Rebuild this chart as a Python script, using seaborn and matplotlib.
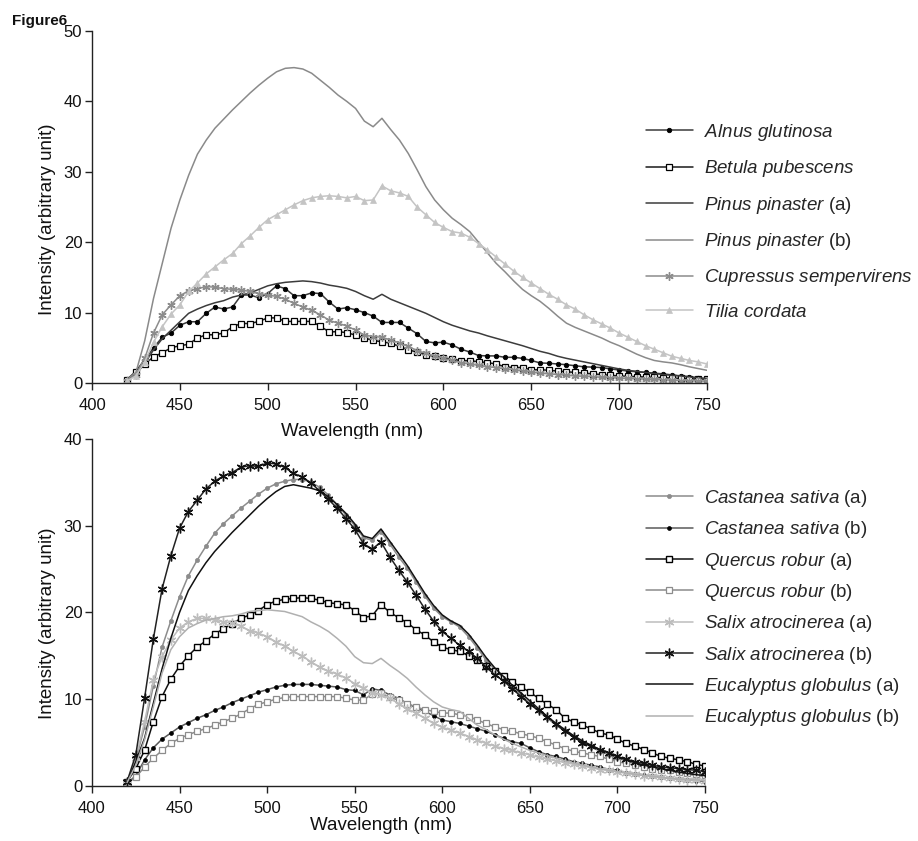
import numpy as np
import matplotlib
matplotlib.use("Agg")
import matplotlib.pyplot as plt
import seaborn as sns

sns.set_theme(style="ticks")
plt.rcParams["font.family"] = ["Liberation Sans", "DejaVu Sans"]
plt.rcParams["mathtext.fontset"] = "custom"
plt.rcParams["mathtext.it"] = "Liberation Sans:italic"
plt.rcParams["mathtext.rm"] = "Liberation Sans"

# Emission wavelengths (nm), one reading every 5 nm
wavelength = np.arange(420, 751, 5)

# ---- Upper panel: fluorescence spectra ----
alnus = [0.5, 1.7, 3.3, 5.0, 6.5, 7.1, 8.2, 8.7, 8.7, 9.9, 10.8, 10.5, 10.8, 12.5, 12.5,
         12.1, 12.7, 13.8, 13.4, 12.4, 12.4, 12.8, 12.7, 11.5, 10.5, 10.7, 10.4, 10.0, 9.5, 8.6,
         8.6, 8.6, 7.8, 7.0, 5.9, 5.7, 5.8, 5.4, 4.8, 4.4, 3.9, 3.85, 3.85, 3.65, 3.65,
         3.5, 3.2, 2.85, 2.8, 2.7, 2.6, 2.45, 2.3, 2.25, 2.2, 2.0, 1.85, 1.7, 1.6, 1.5,
         1.4, 1.3, 1.15, 1.0, 0.9, 0.7, 0.5]
betula = [0.4, 1.5, 2.7, 3.7, 4.3, 5.0, 5.3, 5.5, 6.4, 6.85, 6.85, 7.1, 8.0, 8.45, 8.45,
          8.75, 9.25, 9.25, 8.75, 8.75, 8.75, 8.75, 8.05, 7.25, 7.3, 7.15, 6.8, 6.4, 6.05, 5.85,
          5.65, 5.2, 4.7, 4.4, 4.0, 3.8, 3.55, 3.4, 3.17, 3.17, 3.03, 2.9, 2.7, 2.3, 2.2,
          2.2, 1.85, 1.9, 1.8, 1.7, 1.6, 1.5, 1.4, 1.3, 1.2, 1.1, 1.0, 0.95, 0.9, 0.85,
          0.8, 0.75, 0.7, 0.65, 0.6, 0.55, 0.5]
pinus_a = [0.3, 1.2, 2.8, 4.7, 6.3, 7.5, 8.7, 9.9, 10.5, 11.0, 11.4, 11.7, 12.2, 12.5, 12.8,
           13.3, 13.8, 14.1, 14.3, 14.4, 14.5, 14.4, 14.2, 13.9, 13.7, 13.45, 13.0, 12.4, 11.9, 12.6,
           11.9, 11.4, 10.9, 10.4, 9.9, 9.3, 8.7, 8.2, 7.8, 7.4, 7.1, 6.7, 6.35, 6.0, 5.65,
           5.3, 4.9, 4.5, 4.2, 3.8, 3.5, 3.25, 3.0, 2.75, 2.5, 2.25, 2.0, 1.8, 1.65, 1.5,
           1.35, 1.2, 1.1, 1.0, 0.85, 0.75, 0.65]
pinus_b = [0.5, 1.5, 6.0, 12.0, 17.0, 22.0, 26.0, 29.5, 32.5, 34.5, 36.2, 37.5, 38.8, 40.0, 41.2,
           42.3, 43.3, 44.2, 44.7, 44.8, 44.6, 44.0, 43.0, 42.0, 40.9, 40.0, 39.0, 37.2, 36.4, 37.6,
           36.0, 34.5, 32.6, 30.3, 27.9, 26.0, 24.6, 23.4, 22.5, 21.5, 20.0, 18.5, 17.0, 15.8, 14.5,
           13.3, 12.4, 11.6, 10.6, 9.5, 8.5, 7.9, 7.4, 6.9, 6.4, 5.8, 5.3, 4.7, 4.1, 3.6,
           3.2, 3.0, 2.85, 2.6, 2.3, 2.05, 1.8]
cupressus = [0.3, 1.2, 3.5, 7.1, 9.7, 11.1, 12.4, 13.1, 13.4, 13.7, 13.6, 13.4, 13.3, 13.2, 13.0,
             12.7, 12.5, 12.3, 11.9, 11.3, 10.8, 10.3, 9.7, 8.9, 8.5, 8.1, 7.5, 6.8, 6.6, 6.5,
             6.1, 5.7, 5.2, 4.6, 4.2, 3.8, 3.5, 3.2, 2.9, 2.7, 2.5, 2.3, 2.2, 2.0, 1.9,
             1.7, 1.55, 1.4, 1.3, 1.2, 1.1, 1.0, 0.95, 0.9, 0.8, 0.75, 0.7, 0.65, 0.6, 0.55,
             0.5, 0.45, 0.4, 0.35, 0.3, 0.3, 0.25]
tilia = [0.3, 1.0, 3.0, 5.8, 8.0, 9.8, 11.1, 13.0, 14.2, 15.5, 16.5, 17.5, 18.4, 19.8, 20.9,
         22.1, 23.2, 23.9, 24.6, 25.3, 25.9, 26.3, 26.5, 26.6, 26.5, 26.3, 26.5, 25.9, 26.0, 28.0,
         27.3, 27.0, 26.5, 25.0, 23.9, 22.8, 22.1, 21.5, 21.3, 20.7, 19.8, 18.9, 17.9, 16.9, 15.9,
         15.0, 14.2, 13.4, 12.6, 11.9, 11.1, 10.5, 9.7, 9.0, 8.4, 7.8, 7.1, 6.5, 5.9, 5.3,
         4.8, 4.3, 3.8, 3.5, 3.2, 3.0, 2.7]

# ---- Lower panel ----
castanea_a = [0.4, 3.0, 6.8, 11.5, 16.0, 19.0, 21.8, 24.2, 26.0, 27.6, 29.1, 30.2, 31.1, 32.0, 32.8,
              33.6, 34.3, 34.8, 35.1, 35.3, 35.3, 35.0, 34.4, 33.5, 32.4, 31.2, 30.0, 28.6, 28.3, 29.3,
              27.9, 26.4, 25.1, 23.5, 21.9, 20.5, 19.5, 18.9, 18.3, 17.2, 15.9, 14.5, 13.4, 12.4, 11.4,
              10.5, 9.5, 8.6, 7.8, 7.0, 6.3, 5.6, 5.0, 4.5, 4.0, 3.6, 3.2, 2.9, 2.6, 2.3,
              2.1, 1.9, 1.7, 1.5, 1.35, 1.2, 1.1]
castanea_b = [0.3, 1.2, 3.0, 4.4, 5.4, 6.1, 6.8, 7.3, 7.8, 8.2, 8.7, 9.1, 9.6, 10.0, 10.4,
              10.8, 11.1, 11.4, 11.6, 11.7, 11.7, 11.7, 11.6, 11.5, 11.4, 11.1, 11.0, 10.5, 11.2, 11.0,
              10.5, 10.1, 9.5, 9.0, 8.6, 8.1, 7.6, 7.4, 7.2, 6.9, 6.6, 6.3, 5.9, 5.5, 5.1,
              4.9, 4.4, 3.95, 3.6, 3.4, 3.1, 2.8, 2.6, 2.4, 2.2, 1.9, 1.8, 1.5, 1.4, 1.3,
              1.2, 1.0, 0.9, 0.8, 0.7, 0.6, 0.5]
quercus_a = [0.5, 2.0, 4.1, 7.4, 10.3, 12.3, 13.8, 15.0, 16.0, 16.7, 17.5, 18.1, 18.7, 19.3, 19.7,
             20.2, 20.9, 21.3, 21.5, 21.6, 21.7, 21.6, 21.4, 21.1, 21.0, 20.85, 20.2, 19.4, 19.6, 20.9,
             20.0, 19.4, 18.8, 18.0, 17.4, 16.6, 16.0, 15.7, 15.5, 15.0, 14.5, 13.8, 13.2, 12.7, 12.0,
             11.4, 10.8, 10.1, 9.4, 8.8, 7.8, 7.4, 7.0, 6.6, 6.1, 5.9, 5.4, 4.9, 4.6, 4.2,
             3.8, 3.4, 3.2, 3.0, 2.8, 2.5, 2.3]
quercus_b = [0.3, 1.0, 2.2, 3.2, 4.1, 4.9, 5.5, 5.9, 6.3, 6.6, 7.0, 7.4, 7.8, 8.3, 8.9,
             9.4, 9.7, 10.0, 10.2, 10.3, 10.3, 10.3, 10.3, 10.3, 10.3, 10.1, 9.9, 9.9, 10.6, 10.7,
             10.2, 9.9, 9.5, 9.1, 8.8, 8.6, 8.4, 8.4, 8.2, 8.0, 7.6, 7.2, 6.8, 6.5, 6.3,
             6.0, 5.8, 5.5, 5.1, 4.7, 4.3, 4.0, 3.8, 3.6, 3.4, 3.1, 2.8, 2.6, 2.4, 2.2,
             2.0, 1.9, 1.8, 1.65, 1.5, 1.4, 1.3]
salix_a = [0.4, 3.2, 7.4, 12.2, 14.9, 16.8, 18.2, 18.9, 19.3, 19.3, 19.1, 18.9, 18.8, 18.4, 17.9,
           17.6, 17.2, 16.6, 16.1, 15.5, 15.0, 14.3, 13.7, 13.2, 12.9, 12.4, 11.8, 11.3, 10.7, 10.5,
           10.1, 9.5, 8.9, 8.4, 7.8, 7.2, 6.8, 6.4, 6.1, 5.7, 5.3, 4.9, 4.6, 4.3, 4.1,
           3.8, 3.6, 3.3, 3.1, 2.9, 2.7, 2.5, 2.3, 2.1, 1.9, 1.8, 1.6, 1.5, 1.35, 1.2,
           1.1, 1.0, 0.9, 0.8, 0.7, 0.65, 0.6]
salix_b = [0.5, 3.6, 10.1, 16.9, 22.7, 26.5, 29.7, 31.6, 32.9, 34.2, 35.1, 35.7, 36.1, 36.7, 36.9,
           36.8, 37.2, 37.1, 36.7, 36.0, 35.6, 34.9, 34.0, 33.0, 32.0, 30.8, 29.6, 27.9, 27.3, 28.1,
           26.4, 24.9, 23.5, 22.0, 20.4, 19.0, 17.8, 17.0, 16.2, 15.5, 14.7, 13.7, 12.8, 12.1, 11.2,
           10.3, 9.4, 8.7, 8.0, 7.1, 6.3, 5.7, 5.0, 4.6, 4.2, 3.85, 3.4, 3.1, 2.8, 2.6,
           2.4, 2.2, 2.1, 2.0, 1.9, 1.8, 1.65]
eucalyptus_a = [0.4, 2.8, 5.5, 9.5, 13.5, 17.0, 20.0, 22.5, 24.2, 25.7, 27.0, 28.1, 29.2, 30.2, 31.2,
                32.2, 33.1, 33.9, 34.5, 34.7, 34.5, 34.3, 34.0, 33.3, 32.4, 31.4, 30.2, 28.8, 28.5, 29.6,
                28.2, 26.8, 25.4, 23.8, 22.2, 20.8, 19.7, 19.0, 18.5, 17.5, 16.2, 14.8, 13.6, 12.6, 11.6,
                10.7, 9.8, 8.9, 8.0, 7.2, 6.5, 5.8, 5.2, 4.7, 4.2, 3.8, 3.4, 3.0, 2.7, 2.4,
                2.2, 2.0, 1.8, 1.6, 1.45, 1.3, 1.2]
eucalyptus_b = [0.4, 2.4, 5.3, 9.1, 13.0, 15.7, 17.2, 18.2, 18.7, 19.1, 19.3, 19.5, 19.6, 19.8, 20.1,
                20.2, 20.3, 20.2, 20.1, 19.8, 19.5, 18.9, 18.4, 17.8, 17.0, 16.1, 14.9, 14.2, 14.1, 14.7,
                13.9, 13.2, 12.4, 11.4, 10.5, 9.7, 9.1, 8.8, 8.6, 7.8, 7.0, 6.5, 5.9, 5.4, 4.9,
                4.5, 4.1, 3.8, 3.5, 3.2, 2.9, 2.65, 2.4, 2.2, 2.0, 1.8, 1.65, 1.5, 1.35, 1.2,
                1.1, 1.0, 0.9, 0.8, 0.75, 0.7, 0.65]


def species(name, suffix=""):
    words = name.replace(" ", r"\ ")
    return rf"$\mathit{{{words}}}$" + (f" {suffix}" if suffix else "")


asterisk = (6, 2, 0)

top_series = [
    (species("Alnus glutinosa"), alnus,
     dict(color="#3a3a3a", marker="o", ms=3.2, mfc="black", mec="black", mew=0.6)),
    (species("Betula pubescens"), betula,
     dict(color="#1a1a1a", marker="s", ms=4.3, mfc="white", mec="black", mew=0.9)),
    (species("Pinus pinaster", "(a)"), pinus_a,
     dict(color="#3c3c3c")),
    (species("Pinus pinaster", "(b)"), pinus_b,
     dict(color="#8a8a8a")),
    (species("Cupressus sempervirens"), cupressus,
     dict(color="#8c8c8c", marker=asterisk, ms=6, mfc="#8c8c8c", mec="#8c8c8c", mew=1.0)),
    (species("Tilia cordata"), tilia,
     dict(color="#c4c4c4", marker="^", ms=4.5, mfc="#c4c4c4", mec="#c4c4c4", mew=0.5)),
]

bottom_series = [
    (species("Castanea sativa", "(a)"), castanea_a,
     dict(color="#8c8c8c", marker="o", ms=3.0, mfc="#8c8c8c", mec="#8c8c8c", mew=0.5)),
    (species("Castanea sativa", "(b)"), castanea_b,
     dict(color="#5a5a5a", marker="o", ms=2.8, mfc="black", mec="black", mew=0.5)),
    (species("Quercus robur", "(a)"), quercus_a,
     dict(color="#111111", marker="s", ms=4.6, mfc="white", mec="black", mew=1.0)),
    (species("Quercus robur", "(b)"), quercus_b,
     dict(color="#8c8c8c", marker="s", ms=4.0, mfc="white", mec="#8c8c8c", mew=0.9)),
    (species("Salix atrocinerea", "(a)"), salix_a,
     dict(color="#bdbdbd", marker=asterisk, ms=7, mfc="#bdbdbd", mec="#bdbdbd", mew=1.0)),
    (species("Salix atrocinerea", "(b)"), salix_b,
     dict(color="#222222", marker=asterisk, ms=7, mfc="#111111", mec="#111111", mew=1.0)),
    (species("Eucalyptus globulus", "(a)"), eucalyptus_a,
     dict(color="#111111")),
    (species("Eucalyptus globulus", "(b)"), eucalyptus_b,
     dict(color="#b0b0b0")),
]

W, H = 918, 841
fig = plt.figure(figsize=(W / 100, H / 100), dpi=100)
ax_top = fig.add_axes([92 / W, 1 - 383 / H, 615 / W, 352 / H])
ax_bot = fig.add_axes([92 / W, 1 - 786 / H, 613 / W, 347.3 / H])


def draw(ax, series, ymax, ytick_step):
    for label, values, style in series:
        sns.lineplot(x=wavelength, y=values, ax=ax, label=label, lw=1.1,
                     errorbar=None, sort=False, **style)
    ax.set_xlim(400, 750)
    ax.set_ylim(0, ymax)
    ax.set_xticks(np.arange(400, 751, 50))
    ax.set_yticks(np.arange(0, ymax + 1, ytick_step))
    sns.despine(ax=ax)
    for side in ("left", "bottom"):
        ax.spines[side].set_color("#222222")
        ax.spines[side].set_linewidth(1.0)
    ax.tick_params(axis="both", direction="out", length=5, width=1.0,
                   color="#222222", labelsize=12, labelcolor="#111111")
    ax.tick_params(axis="x", pad=6)
    ax.tick_params(axis="y", pad=2)
    ax.set_xlabel("Wavelength (nm)", fontsize=13.5, color="#111111")
    ax.set_ylabel("Intensity (arbitrary unit)", fontsize=13.5, color="#111111")


draw(ax_top, top_series, 50, 10)
draw(ax_bot, bottom_series, 40, 10)

# axis label placement
ax_top.xaxis.set_label_coords((352 - 92) / 615, -(423 - 383) / 352)
ax_top.yaxis.set_label_coords(-(92 - 56) / 615, (383 - 219) / 352)
ax_bot.xaxis.set_label_coords((381 - 92) / 613, -(817 - 786) / 347.3)
ax_bot.yaxis.set_label_coords(-(92 - 56) / 613, (786 - 623) / 347.3)

leg_kw = dict(frameon=False, fontsize=13.5, handlelength=2.5, handletextpad=0.6,
              borderpad=0, borderaxespad=0, numpoints=1, loc="upper left",
              bbox_transform=fig.transFigure)
ax_top.legend(bbox_to_anchor=(646 / W, 1 - 122 / H), labelspacing=0.82, **leg_kw)
ax_bot.legend(bbox_to_anchor=(646 / W, 1 - 488 / H), labelspacing=0.55, **leg_kw)

fig.text(12 / W, 1 - 21 / H, "Figure6", fontsize=11, fontweight="bold",
         va="center", ha="left", color="#111111")

fig.savefig("out.png", dpi=100)
